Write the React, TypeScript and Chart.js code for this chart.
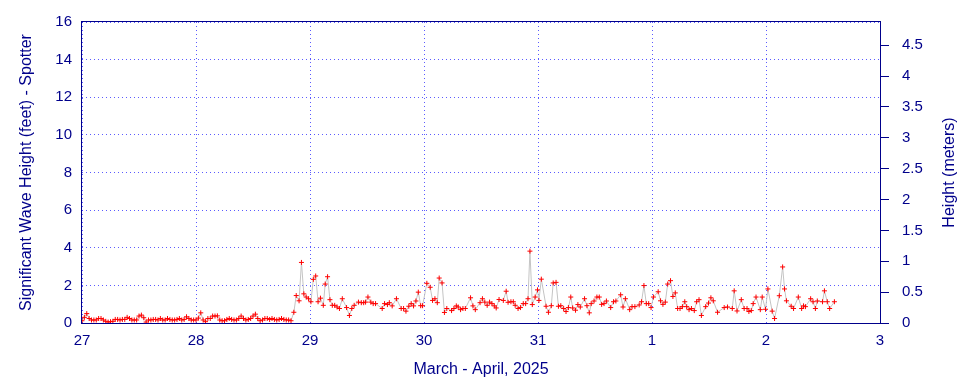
import React, { useEffect, useRef } from 'react';
import { Chart, registerables } from 'chart.js';

Chart.register(...registerables);

// x positions: hours since March 27, 00:00
const DAY_LABELS = ['27', '28', '29', '30', '31', '1', '2', '3'];
const X_AXIS_TITLE = 'March - April, 2025';
const LEFT_TITLE = 'Significant Wave Height (feet) - Spotter';
const RIGHT_TITLE = 'Height (meters)';
const FEET_MAX = 16;
const FEET_STEP = 2;
const METER_STEP = 0.5;

const calmHours = [
  0, 0.5, 1, 1.5, 2, 2.5, 3, 3.5, 4, 4.5,
  5, 5.5, 6, 6.5, 7, 7.5, 8, 8.5, 9, 9.5,
  10, 10.5, 11, 11.5, 12, 12.5, 13, 13.5, 14, 14.5,
  15, 15.5, 16, 16.5, 17, 17.5, 18, 18.5, 19, 19.5,
  20, 20.5, 21, 21.5, 22, 22.5, 23, 23.5, 24, 24.5,
  25, 25.5, 26, 26.5, 27, 27.5, 28, 28.5, 29, 29.5,
  30, 30.5, 31, 31.5, 32, 32.5, 33, 33.5, 34, 34.5,
  35, 35.5, 36, 36.5, 37, 37.5, 38, 38.5, 39, 39.5,
  40, 40.5, 41, 41.5, 42, 42.5, 43, 43.5, 44,
];
const calmFeet = [
  0.12, 0.30, 0.50, 0.24, 0.16, 0.16, 0.16, 0.24, 0.24, 0.16,
  0.09, 0.05, 0.07, 0.09, 0.19, 0.19, 0.16, 0.19, 0.19, 0.30,
  0.24, 0.16, 0.16, 0.16, 0.37, 0.42, 0.28, 0.05, 0.16, 0.16,
  0.19, 0.19, 0.16, 0.24, 0.16, 0.16, 0.24, 0.19, 0.16, 0.16,
  0.19, 0.24, 0.16, 0.19, 0.33, 0.24, 0.16, 0.16, 0.16, 0.26,
  0.54, 0.16, 0.07, 0.24, 0.24, 0.37, 0.37, 0.38, 0.16, 0.12,
  0.12, 0.19, 0.24, 0.19, 0.16, 0.16, 0.24, 0.37, 0.24, 0.16,
  0.19, 0.24, 0.37, 0.47, 0.24, 0.12, 0.16, 0.24, 0.24, 0.19,
  0.24, 0.19, 0.16, 0.19, 0.24, 0.19, 0.16, 0.16, 0.12,
];

const swellHours = [
  44.6, 45.1, 45.7, 46.2, 46.7, 47.2, 47.7, 48.2, 48.7, 49.2,
  49.7, 50.2, 50.8, 51.2, 51.7, 52.2, 52.7, 53.2, 53.7, 54.2,
  54.8, 55.7, 56.3, 56.8, 57.3, 58.2, 58.8, 59.3, 59.7, 60.2,
  60.8, 61.3, 61.8, 63.2, 63.7, 64.3, 64.7, 65.3, 66.2, 67.2,
  67.7, 68.2, 68.8, 69.3, 69.8, 70.3, 70.8, 71.3, 71.7, 72.6,
  73.3, 73.8, 74.3, 74.8, 75.2, 75.8, 76.3, 76.8, 77.8, 78.3,
  78.8, 79.2, 79.7, 80.2, 80.7, 81.8, 82.3, 82.8, 83.8, 84.3,
  84.8, 85.3, 85.8, 86.3, 86.8, 87.2, 87.8, 88.7, 89.3, 89.7,
  90.3, 90.8, 91.2, 91.8, 92.3, 92.9, 93.4, 93.9, 94.3, 94.8,
  95.4, 95.9, 96.2, 96.7, 97.7, 98.2, 98.8, 99.2, 99.8, 100.3,
  100.8, 101.4, 101.9, 102.4, 102.9, 103.3, 103.9, 104.4, 104.9, 105.8,
  106.3, 106.8, 107.2, 107.8, 108.4, 108.9, 109.4, 109.9, 110.4, 111.3,
  111.9, 112.4, 113.4, 113.9, 114.4, 115.3, 115.8, 116.4, 117.3, 117.8,
  118.3, 118.8, 119.3, 119.8, 120.3, 121.3, 121.8, 122.3, 122.8, 123.3,
  123.9, 124.4, 124.9, 125.4, 125.9, 126.4, 126.9, 127.3, 127.8, 128.3,
  128.9, 129.4, 129.9, 130.4, 131.3, 131.9, 132.4, 132.9, 133.8, 135.2,
  135.9, 136.9, 137.3, 137.9, 138.8, 139.4, 140.0, 140.4, 140.9, 141.3,
  141.9, 142.8, 143.2, 143.9, 144.4, 145.3, 145.8, 146.8, 147.5, 147.9,
  148.3, 149.3, 149.8, 150.8, 151.5, 151.9, 152.3, 153.4, 153.9, 154.4,
  154.8, 155.9, 156.3, 156.9, 157.4, 158.4,
];
const swellFeet = [
  0.57, 1.46, 1.18, 3.22, 1.55, 1.38, 1.29, 1.13, 2.32, 2.50,
  1.13, 1.32, 0.94, 2.07, 2.46, 1.24, 0.94, 0.94, 0.85, 0.77,
  1.29, 0.82, 0.40, 0.77, 0.94, 1.11, 1.08, 1.08, 1.11, 1.38,
  1.11, 1.03, 1.03, 0.77, 1.03, 0.98, 1.08, 0.91, 1.29, 0.77,
  0.77, 0.63, 0.89, 1.03, 0.91, 1.17, 1.64, 0.92, 0.92, 2.11,
  1.90, 1.20, 1.29, 1.08, 2.39, 2.13, 0.56, 0.77, 0.66, 0.77,
  0.91, 0.85, 0.71, 0.77, 0.77, 1.34, 0.91, 0.71, 1.08, 1.29,
  1.11, 0.94, 1.11, 1.03, 0.91, 0.80, 1.25, 1.20, 1.69, 1.10,
  1.13, 1.13, 0.94, 0.77, 0.82, 1.03, 1.03, 1.29, 3.82, 0.98,
  1.38, 1.76, 1.20, 2.33, 0.89, 0.57, 0.92, 2.13, 2.16, 0.89,
  0.92, 0.77, 0.61, 0.82, 1.38, 0.80, 0.68, 0.98, 0.85, 1.29,
  0.92, 0.54, 1.03, 1.17, 1.38, 1.38, 0.99, 1.03, 1.17, 0.82,
  1.13, 1.17, 1.50, 0.85, 1.29, 0.71, 0.87, 0.87, 0.96, 1.13,
  1.99, 1.03, 1.03, 0.82, 1.38, 1.66, 1.18, 0.99, 1.11, 2.07,
  2.25, 1.41, 1.60, 0.77, 0.77, 0.87, 1.13, 0.87, 0.71, 0.77,
  0.66, 1.13, 1.24, 0.40, 0.87, 1.06, 1.34, 1.18, 0.57, 0.82,
  0.85, 0.77, 1.71, 0.64, 1.24, 0.77, 0.77, 0.61, 0.66, 1.03,
  1.38, 0.71, 1.38, 0.73, 1.81, 0.63, 0.24, 1.45, 2.98, 1.81,
  1.18, 0.89, 0.77, 1.38, 0.77, 0.91, 0.87, 1.29, 1.13, 0.77,
  1.17, 1.13, 1.71, 1.13, 0.77, 1.13,
];

const NAVY = '#00008b';
const GRID = 'rgba(50,50,255,0.8)';
const FONT = '"Liberation Sans", Arial, Helvetica, sans-serif';

export default function App() {
  const ref = useRef<HTMLCanvasElement | null>(null);

  useEffect(() => {
    document.body.style.margin = '0';
    const canvas = ref.current;
    if (!canvas) return;
    const hours = [...calmHours, ...swellHours];
    const feet = [...calmFeet, ...swellFeet];
    const points = hours.map((h, i) => ({ x: h, y: feet[i] }));

    const frame = {
      id: 'frame',
      afterDraw(chart: any) {
        const { ctx, chartArea } = chart;
        const { left, top, right, bottom } = chartArea;
        ctx.save();
        ctx.strokeStyle = NAVY;
        ctx.lineWidth = 1;
        ctx.setLineDash([]);
        ctx.strokeRect(Math.round(left) - 0.5, Math.round(top) - 0.5, Math.round(right - left) + 1, Math.round(bottom - top) + 1);
        ctx.fillStyle = NAVY;
        ctx.font = `16px ${FONT}`;
        ctx.textAlign = 'center';
        ctx.textBaseline = 'middle';
        ctx.translate(950, (top + bottom) / 2);
        ctx.rotate(-Math.PI / 2);
        ctx.fillText(RIGHT_TITLE, 0, 0);
        ctx.restore();
      },
    };

    const chart = new Chart(canvas, {
      type: 'line',
      data: {
        datasets: [
          {
            data: points,
            borderColor: '#c4c4c4',
            borderWidth: 1,
            tension: 0,
            pointStyle: 'cross',
            pointRadius: 2.5,
            pointBorderColor: '#ff0000',
            pointBackgroundColor: '#ff0000',
            pointBorderWidth: 1,
            yAxisID: 'y',
          },
        ],
      },
      options: {
        animation: false,
        responsive: false,
        devicePixelRatio: 1,
        layout: { padding: { top: 18, left: 0, right: 0, bottom: 0 } },
        plugins: { legend: { display: false }, tooltip: { enabled: false } },
        scales: {
          x: {
            type: 'linear',
            min: 0,
            max: (DAY_LABELS.length - 1) * 24,
            afterFit: (s: any) => { s.height = 61; },
            ticks: {
              stepSize: 24,
              autoSkip: false,
              maxRotation: 0,
              color: NAVY,
              font: { family: FONT, size: 15 },
              padding: 9,
              callback: (v: any) => DAY_LABELS[Math.round(Number(v) / 24)] ?? '',
            },
            grid: { color: GRID, drawTicks: false, lineWidth: 1 },
            border: { display: false, dash: [1, 3] },
            title: {
              display: true,
              text: X_AXIS_TITLE,
              color: NAVY,
              font: { family: FONT, size: 16 },
              padding: { top: 0, bottom: 4.4 },
            },
          },
          y: {
            position: 'left',
            min: 0,
            max: FEET_MAX,
            afterFit: (s: any) => { s.width = 82; },
            ticks: {
              stepSize: FEET_STEP,
              color: NAVY,
              font: { family: FONT, size: 15 },
              padding: 10,
              callback: (v: any) => String(v),
            },
            grid: { color: GRID, drawTicks: false, lineWidth: 1 },
            border: { display: false, dash: [1, 3] },
            title: {
              display: true,
              text: LEFT_TITLE,
              color: NAVY,
              font: { family: FONT, size: 16 },
              padding: { top: 17.4, bottom: 0 },
            },
          },
          y2: {
            position: 'right',
            min: 0,
            max: FEET_MAX * 0.3048,
            afterFit: (s: any) => { s.width = 80; },
            afterBuildTicks: (s: any) => {
              s.ticks = s.ticks.filter((t: any) => Math.abs(t.value / METER_STEP - Math.round(t.value / METER_STEP)) < 1e-6);
            },
            ticks: {
              stepSize: METER_STEP,
              color: NAVY,
              font: { family: FONT, size: 15 },
              padding: 13,
              callback: (v: any) => String(Math.round(Number(v) * 10) / 10),
            },
            grid: { drawOnChartArea: false, drawTicks: true, tickLength: 9, color: NAVY, lineWidth: 1 },
            border: { display: false, dash: [] },
          },
        },
      },
      plugins: [frame],
    } as any);

    return () => chart.destroy();
  }, []);

  return (
    <div style={{ width: 960, height: 384 }}>
      <canvas ref={ref} width={960} height={384} style={{ display: 'block' }} />
    </div>
  );
}
